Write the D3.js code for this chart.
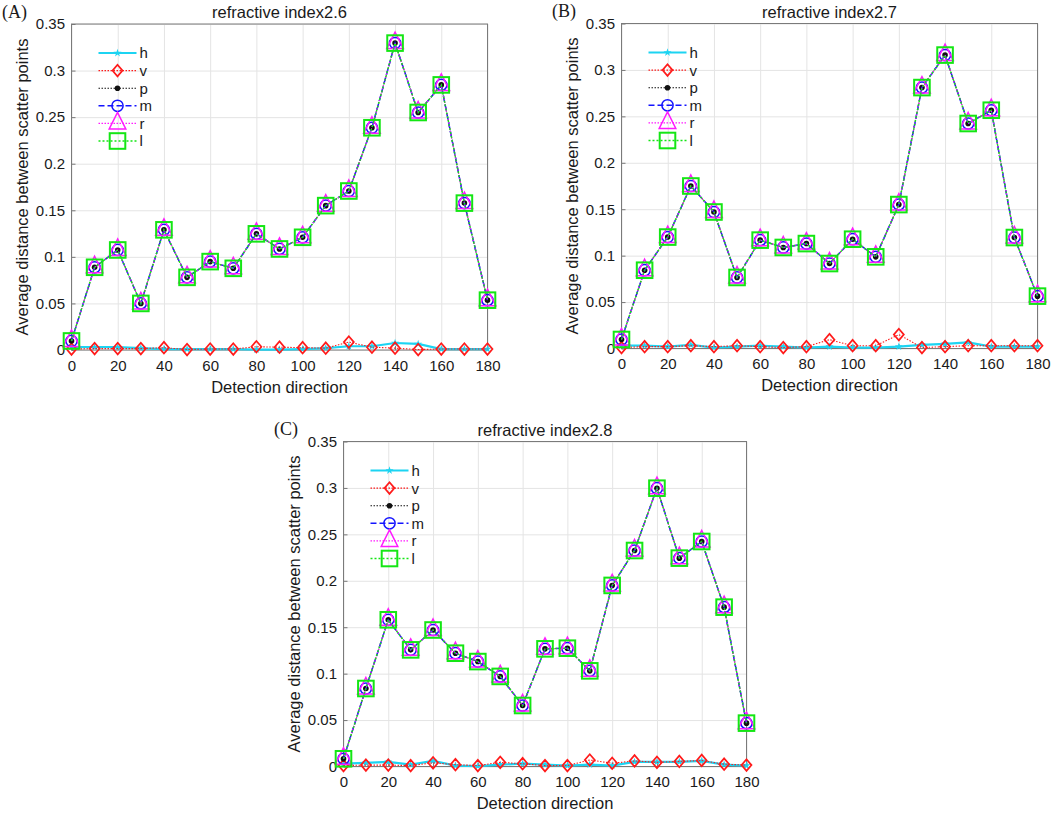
<!DOCTYPE html>
<html>
<head>
<meta charset="utf-8">
<script src="https://cdn.jsdelivr.net/npm/d3@7/dist/d3.min.js"></script>
<style>
  body { margin: 0; background: #fff; }
  svg text { font-family: "Liberation Sans", Arial, sans-serif; fill: #1a1a1a; }
</style>
</head>
<body>
<svg id="fig" width="1052" height="813"></svg>
<script>
// Detection directions (x values) shared by every panel
const directions = [0, 10, 20, 30, 40, 50, 60, 70, 80, 90, 100, 110, 120, 130, 140, 150, 160, 170, 180];
const xTicks = [0, 20, 40, 60, 80, 100, 120, 140, 160, 180];
const yTicks = [0, 0.05, 0.1, 0.15, 0.2, 0.25, 0.3, 0.35];
const yTickLabels = ["0", "0.05", "0.1", "0.15", "0.2", "0.25", "0.3", "0.35"];
const seriesNames = ["h", "v", "p", "m", "r", "l"];
const panelLabels = ["(A)", "(B)", "(C)"];
const panelTitles = ["refractive index2.6", "refractive index2.7", "refractive index2.8"];

// Panel A (refractive index 2.6)
const hA = [0.003, 0.003, 0.003, 0.002, 0.001, 0.001, 0.001, 0.001, 0.0005, 0.0005, 0.001, 0.002, 0.004, 0.004, 0.0075, 0.0065, 0.001, 0.001, 0.001];
const vA = [0.001, 0.0015, 0.0015, 0.0015, 0.0025, 0.0005, 0.001, 0.001, 0.0035, 0.003, 0.0025, 0.002, 0.0085, 0.003, 0.002, 0.0005, 0.001, 0.001, 0.001];
// p, m, r and l lie on top of each other
const pmrlA = [0.0097, 0.0888, 0.1074, 0.050, 0.129, 0.078, 0.0949, 0.0877, 0.1247, 0.1085, 0.121, 0.155, 0.1707, 0.2386, 0.3295, 0.255, 0.2846, 0.1577, 0.0535];

// Panel B (refractive index 2.7)
const hB = [0.003, 0.003, 0.002, 0.004, 0.001, 0.002, 0.003, 0.002, 0.001, 0.002, 0.001, 0.001, 0.002, 0.004, 0.005, 0.0065, 0.002, 0.002, 0.002];
const vB = [0.001, 0.002, 0.002, 0.003, 0.002, 0.003, 0.002, 0.001, 0.002, 0.0095, 0.003, 0.003, 0.015, 0.001, 0.002, 0.003, 0.003, 0.003, 0.003];
const pmrlB = [0.0097, 0.0843, 0.120, 0.175, 0.147, 0.0765, 0.1167, 0.1088, 0.113, 0.0915, 0.1177, 0.0987, 0.155, 0.281, 0.316, 0.2423, 0.2566, 0.1195, 0.0564];

// Panel C (refractive index 2.8)
const hC = [0.003, 0.004, 0.005, 0.002, 0.006, 0.001, 0.0005, 0.002, 0.003, 0.002, 0.001, 0.002, 0.001, 0.005, 0.005, 0.005, 0.006, 0.002, 0.001];
const vC = [0.001, 0.0015, 0.0015, 0.001, 0.004, 0.002, 0.001, 0.0045, 0.003, 0.001, 0.001, 0.007, 0.0035, 0.006, 0.0045, 0.0055, 0.0065, 0.0025, 0.0015];
const pmrlC = [0.0083, 0.084, 0.158, 0.1256, 0.147, 0.122, 0.113, 0.097, 0.0657, 0.1267, 0.1274, 0.103, 0.195, 0.2326, 0.2997, 0.2244, 0.2423, 0.1716, 0.0467];

// Line and marker style for each series (MATLAB-like)
const styles = {
    h: { color: "#1cd4f2", width: 2.2, dash: null, marker: "star" },
    v: { color: "#ff1a1a", width: 1.1, dash: "1.5,1.5", marker: "diamond" },
    p: { color: "#111111", width: 1.1, dash: "1.5,1.5", marker: "dot" },
    m: { color: "#1414ff", width: 1.5, dash: "6,3", marker: "circle" },
    r: { color: "#ff1aff", width: 1.1, dash: "1.5,1.5", marker: "triangle" },
    l: { color: "#14e614", width: 1.4, dash: "2,2", marker: "square" }
};

// Draw one marker of the given kind centred at (cx, cy)
function draw_marker(g, kind, color, cx, cy) {
    if (kind === "star") {
        g.append("path")
            .attr("d", d3.symbol(d3.symbolStar, 20)())
            .attr("transform", "translate(" + cx + "," + cy + ")")
            .attr("fill", color);
    } else if (kind === "diamond") {
        g.append("path")
            .attr("d", "M0,-5.8L5,0L0,5.8L-5,0Z")
            .attr("transform", "translate(" + cx + "," + cy + ")")
            .attr("fill", "none").attr("stroke", color).attr("stroke-width", 1.7);
    } else if (kind === "dot") {
        g.append("circle")
            .attr("cx", cx).attr("cy", cy).attr("r", 2.8)
            .attr("fill", color);
    } else if (kind === "circle") {
        g.append("circle")
            .attr("cx", cx).attr("cy", cy).attr("r", 5.6)
            .attr("fill", "none").attr("stroke", color).attr("stroke-width", 1.5);
    } else if (kind === "triangle") {
        g.append("path")
            .attr("d", "M0,-11L8.3,5.5L-8.3,5.5Z")
            .attr("transform", "translate(" + cx + "," + cy + ")")
            .attr("fill", "none").attr("stroke", color).attr("stroke-width", 1.5);
    } else if (kind === "square") {
        g.append("rect")
            .attr("x", cx - 7.8).attr("y", cy - 7.8)
            .attr("width", 15.6).attr("height", 15.6)
            .attr("fill", "none").attr("stroke", color).attr("stroke-width", 2);
    }
}

// Draw a whole panel inside the given plot box
function draw_panel(svg, box, label, title, hVals, vVals, curveVals) {
    const width = box.x1 - box.x0;
    const height = box.y1 - box.y0;

    const x = d3.scaleLinear().domain([0, 180]).range([0, width]);
    const y = d3.scaleLinear().domain([0, 0.35]).range([height, 0]);

    const g = svg.append("g")
        .attr("transform", "translate(" + box.x0 + "," + box.y0 + ")");

    // Grid lines
    const gx = g.append("g")
        .attr("transform", "translate(0," + height + ")")
        .call(d3.axisBottom(x).tickValues(xTicks).tickSize(-height).tickFormat(""));
    const gy = g.append("g")
        .call(d3.axisLeft(y).tickValues(yTicks).tickSize(-width).tickFormat(""));
    [gx, gy].forEach(function (sel) {
        sel.select(".domain").remove();
        sel.selectAll("line").attr("stroke", "#e4e4e4").attr("stroke-width", 1);
    });

    // Axes with inward ticks
    const xAxis = g.append("g")
        .attr("transform", "translate(0," + height + ")")
        .call(d3.axisBottom(x).tickValues(xTicks).tickSize(-4).tickPadding(10));
    const yAxis = g.append("g")
        .call(d3.axisLeft(y).tickValues(yTicks).tickSize(-4).tickPadding(6.5)
            .tickFormat(function (d, i) { return yTickLabels[i]; }));
    [xAxis, yAxis].forEach(function (sel) {
        sel.select(".domain").remove();
        sel.selectAll("line").attr("stroke", "#777");
        sel.selectAll("text").style("font-size", "15px").attr("fill", "#1a1a1a");
    });

    // Box round the plot area
    g.append("rect")
        .attr("width", width).attr("height", height)
        .attr("fill", "none").attr("stroke", "#7a7a7a").attr("stroke-width", 1);

    // Series, drawn in legend order
    const seriesVals = { h: hVals, v: vVals, p: curveVals, m: curveVals, r: curveVals, l: curveVals };
    const line = d3.line()
        .x(function (d, i) { return x(directions[i]); })
        .y(function (d) { return y(d); });

    seriesNames.forEach(function (name) {
        const st = styles[name];
        g.append("path")
            .datum(seriesVals[name])
            .attr("d", line)
            .attr("fill", "none")
            .attr("stroke", st.color)
            .attr("stroke-width", st.width)
            .attr("stroke-dasharray", st.dash);
        const mg = g.append("g");
        seriesVals[name].forEach(function (d, i) {
            draw_marker(mg, st.marker, st.color, x(directions[i]), y(d));
        });
    });

    // Legend (no frame)
    const lg = g.append("g");
    seriesNames.forEach(function (name, i) {
        const st = styles[name];
        const ly = 29 + i * 17.6;
        lg.append("line")
            .attr("x1", 27).attr("x2", 65).attr("y1", ly).attr("y2", ly)
            .attr("stroke", st.color)
            .attr("stroke-width", st.width)
            .attr("stroke-dasharray", st.dash);
        draw_marker(lg, st.marker, st.color, 46, ly);
        lg.append("text")
            .attr("x", 68).attr("y", ly).attr("dy", "0.36em")
            .style("font-size", "15px")
            .text(name);
    });

    // Title and axis labels
    g.append("text")
        .attr("text-anchor", "middle")
        .attr("x", width / 2).attr("y", -5.7)
        .style("font-size", "16.5px")
        .text(title);
    g.append("text")
        .attr("text-anchor", "middle")
        .attr("x", width / 2).attr("y", height + 42.7)
        .style("font-size", "16.5px")
        .text("Detection direction");
    g.append("text")
        .attr("text-anchor", "middle")
        .attr("transform", "rotate(-90)")
        .attr("x", -height / 2).attr("y", -43.5)
        .style("font-size", "16.5px")
        .text("Average distance between scatter points");

    // Panel letter
    g.append("text")
        .attr("x", -69.5).attr("y", -6.5)
        .style("font-family", "'Liberation Serif', 'Times New Roman', serif")
        .style("font-size", "18px")
        .attr("fill", "#000")
        .text(label);
}

const svg = d3.select("#fig");
svg.append("rect").attr("width", 1052).attr("height", 813).attr("fill", "#fff");

draw_panel(svg, { x0: 71.5, x1: 487.5, y0: 24, y1: 350 }, panelLabels[0], panelTitles[0], hA, vA, pmrlA);
draw_panel(svg, { x0: 621.5, x1: 1037.5, y0: 23.5, y1: 348.5 }, panelLabels[1], panelTitles[1], hB, vB, pmrlB);
draw_panel(svg, { x0: 343.5, x1: 746.5, y0: 441.5, y1: 766.5 }, panelLabels[2], panelTitles[2], hC, vC, pmrlC);
</script>
</body>
</html>
